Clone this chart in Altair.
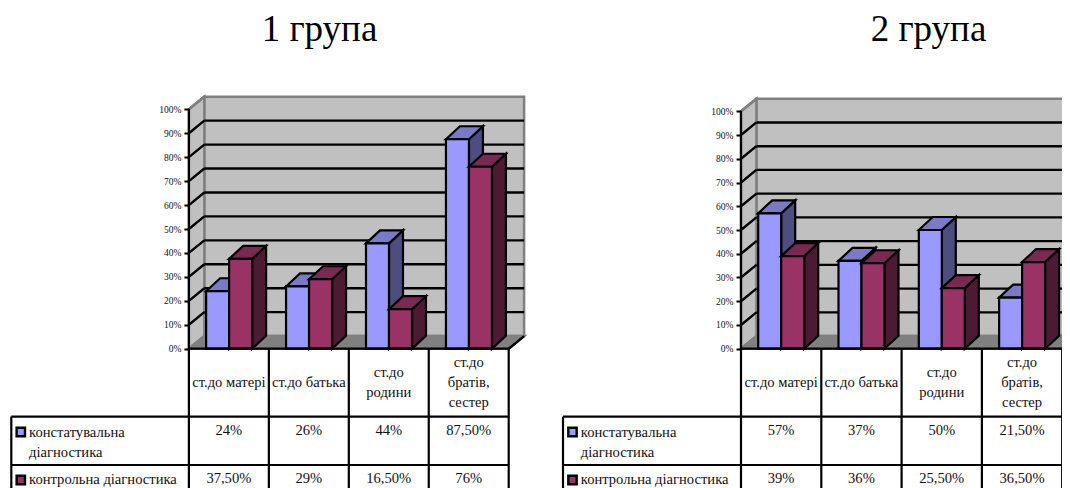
import altair as alt
import pandas as pd

categories = [["ст.до матері"], ["ст.до батька"], ["ст.до", "родини"], ["ст.до", "братів,", "сестер"]]
series_names = [["констатувальна", "діагностика"], ["контрольна діагностика"]]
group_titles = ["1 група", "2 група"]
constat_1 = [24, 26, 44, 87.5]
control_1 = [37.5, 29, 16.5, 76]
constat_2 = [57, 37, 50, 21.5]
control_2 = [39, 36, 25.5, 36.5]
constat_1_text = ["24%", "26%", "44%", "87,50%"]
control_1_text = ["37,50%", "29%", "16,50%", "76%"]
constat_2_text = ["57%", "37%", "50%", "21,50%"]
control_2_text = ["39%", "36%", "25,50%", "36,50%"]
ticks = [0, 10, 20, 30, 40, 50, 60, 70, 80, 90, 100]

FONT = "Liberation Serif"
BLUE = ("#9999FF", "#7A7AC6", "#4D4D80")
RED = ("#993366", "#7A2952", "#4D1A33")
BOTTOM = 488


def panel(title, title_px, a, b, a_text, b_text, left, ax0, col, ytop, table_left, width):
    y0 = 348.7
    ppp = (y0 - ytop) / 100
    X = lambda p: (p - ax0) / col
    Y = lambda p: (y0 - p) / ppp
    dxw, dyw = 15.4 / col, 12.6 / ppp
    dxb, dyb = 14 / col, 13 / ppp
    faces, fid = [], 0

    def face(points, fill, stroke):
        nonlocal fid
        for x, t, bt in points:
            faces.append(dict(face=fid, x=x, top=t, bot=bt, fill=fill, stroke=stroke))
        fid += 1

    # walls and floor
    face([(dxw, 100 + dyw, dyw), (4 + dxw, 100 + dyw, dyw)], "#C0C0C0", "#808080")
    face([(0, 100, 0), (dxw, 100 + dyw, dyw)], "#C0C0C0", "#808080")
    face([(0, 0, 0), (dxw, dyw, 0), (4, dyw, 0), (4 + dxw, dyw, dyw)], "#808080", "#808080")
    walls = pd.DataFrame(faces)
    faces.clear()

    offs = 17.2 / col
    bw = 23 / col
    for i in range(4):
        for j, (vals, cols) in enumerate(((a, BLUE), (b, RED))):
            v = vals[i]
            x0 = i + offs + j * bw
            x1 = x0 + bw
            face([(x1, v, 0), (x1 + dxb, v + dyb, dyb)], cols[2], "black")
            face([(x0, v, v), (x0 + dxb, v + dyb, v), (x1, v + dyb, v), (x1 + dxb, v + dyb, v + dyb)], cols[1], "black")
            face([(x0, v, 0), (x1, v, 0)], cols[0], "black")
    bars = pd.DataFrame(faces)

    xs = alt.Scale(domain=[X(left), X(left + width)], nice=False, zero=False)
    ys = alt.Scale(domain=[Y(BOTTOM), Y(8)], nice=False, zero=False)
    ex = alt.X("x:Q", scale=xs, axis=None)
    yaxis = alt.Axis(
        values=ticks, domain=False, grid=False, offset=-(ax0 - left), tickSize=5, tickWidth=2,
        tickColor="black", labelFont=FONT, labelFontSize=9.5, labelColor="#111111", labelPadding=3,
        labelExpr="datum.value + '%'", zindex=1)
    ey = alt.Y("top:Q", scale=ys, axis=yaxis, stack=None, title=None)

    def areas(df, sw):
        return alt.Chart(df).mark_area(strokeWidth=sw, strokeJoin="miter", opacity=1, clip=True).encode(
            x=ex, y=ey, y2="bot:Q",
            detail="face:O",
            color=alt.Color("fill:N", scale=None),
            stroke=alt.Stroke("stroke:N", scale=None),
        )

    grid_back = alt.Chart(pd.DataFrame({"top": [t + dyw for t in ticks[1:-1]], "x": [dxw] * 9, "x2": [4 + dxw] * 9})) \
        .mark_rule(color="black", strokeWidth=2.4, clip=True).encode(x=ex, x2="x2:Q", y=ey)

    rows = []
    for k, t in enumerate(ticks):
        c = "#808080" if t in (0, 100) else "black"
        rows += [dict(k=k, x=0, top=t, c=c), dict(k=k, x=dxw, top=t + dyw, c=c)]
    rows += [dict(k=99, x=4, top=0, c="black"), dict(k=99, x=4 + dxw, top=dyw, c="black")]
    diag = alt.Chart(pd.DataFrame(rows)).mark_line(strokeWidth=2.4, clip=True).encode(
        x=ex, y=ey, detail="k:O", color=alt.Color("c:N", scale=None))

    r1, r2, r_end = Y(416.6), Y(465), Y(BOTTOM)
    xl = X(table_left)
    lines = [
        dict(x=0, x2=4, top=0, bot=0),
        dict(x=xl, x2=4, top=r1, bot=r1),
        dict(x=xl, x2=4, top=r2, bot=r2),
        dict(x=xl, x2=xl, top=r1, bot=r_end),
        dict(x=0, x2=0, top=100, bot=r_end),
    ] + [dict(x=i, x2=i, top=0, bot=r_end) for i in range(1, 5)]
    table = alt.Chart(pd.DataFrame(lines)).mark_rule(color="black", strokeWidth=2.2, clip=True).encode(
        x=ex, x2="x2:Q", y=ey, y2="bot:Q")

    txt = []
    cy = 382.7
    for i, ls in enumerate(categories):
        for m, s in enumerate(ls):
            txt.append(dict(x=i + 0.5, top=Y(cy + (m - (len(ls) - 1) / 2) * 20), s=s))
    for i in range(4):
        txt.append(dict(x=i + 0.5, top=Y(430.7), s=a_text[i]))
        txt.append(dict(x=i + 0.5, top=Y(478.7), s=b_text[i]))
    center = alt.Chart(pd.DataFrame(txt)).mark_text(font=FONT, fontSize=14.6, color="#111111", align="center", baseline="middle").encode(
        x=ex, y=ey, text="s:N")

    heads = [
        dict(x=X(table_left + 17.8), top=Y(433.3), s=series_names[0][0]),
        dict(x=X(table_left + 17.8), top=Y(453.3), s=series_names[0][1]),
        dict(x=X(table_left + 17.8), top=Y(480), s=series_names[1][0]),
    ]
    head = alt.Chart(pd.DataFrame(heads)).mark_text(font=FONT, fontSize=14.6, color="#111111", align="left", baseline="middle").encode(
        x=ex, y=ey, text="s:N")

    keys = pd.DataFrame([
        dict(x=X(table_left + 9.5), top=Y(432), f=BLUE[0]),
        dict(x=X(table_left + 9.5), top=Y(480), f=RED[0]),
    ])
    key = alt.Chart(keys).mark_square(size=70, stroke="black", strokeWidth=2.4, opacity=1, filled=True).encode(
        x=ex, y=ey, fill=alt.Fill("f:N", scale=None))

    ttl = alt.Chart(pd.DataFrame({"x": [X(title_px)], "top": [Y(29.5)], "s": [title]})).mark_text(
        font=FONT, fontSize=37, color="black", align="center", baseline="middle").encode(x=ex, y=ey, text="s:N")

    return alt.layer(areas(walls, 2.5), grid_back, diag, areas(bars, 2.2), table, center, head, key, ttl) \
        .properties(width=width, height=BOTTOM - 8)


p1 = panel(group_titles[0], 319.5, constat_1, control_1, constat_1_text, control_1_text,
           8, 188.9, 79.95, 109.3, 11.3, 527)
p2 = panel(group_titles[1], 928.5, constat_2, control_2, constat_2_text, control_2_text,
           535, 741, 80.3, 111.3, 563, 527)

chart = alt.hconcat(p1, p2, spacing=0, bounds="flush", padding=0).configure_view(stroke=None).resolve_scale(x="independent", y="independent")
chart.save("out.html", embed_options={"renderer": "svg", "actions": False})
